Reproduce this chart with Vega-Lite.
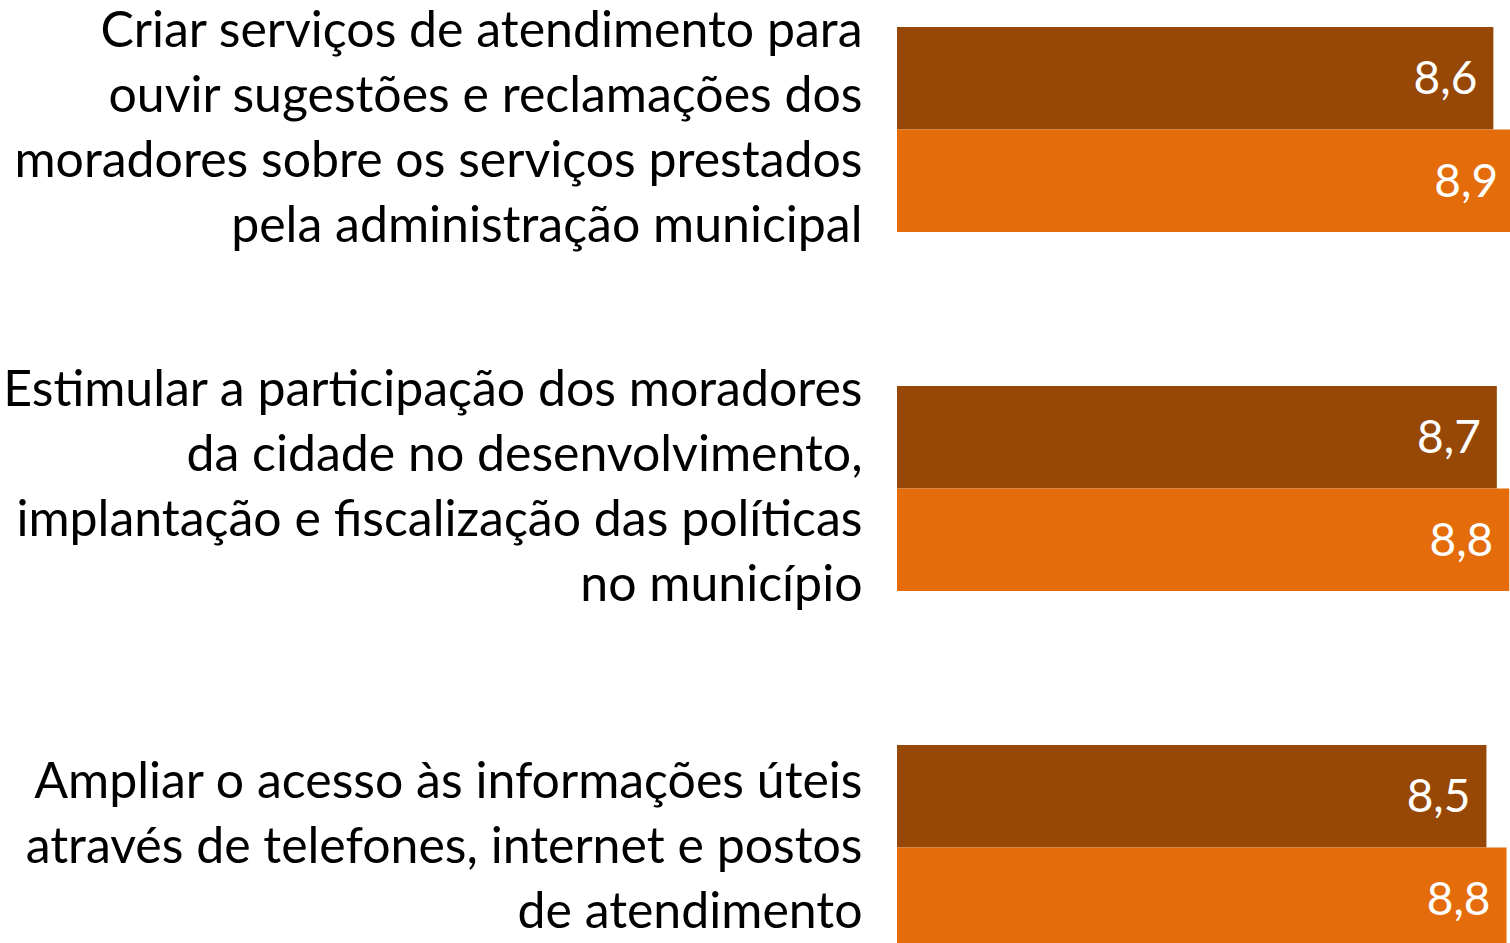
{
  "$schema": "https://vega.github.io/schema/vega-lite/v6.json",
  "width": 613,
  "height": 943,
  "autosize": {"type": "none"},
  "padding": {"left": 897, "top": 0, "right": 0, "bottom": 0},
  "background": "white",
  "config": {
    "view": {"stroke": null},
    "locale": {"number": {"decimal": ",", "thousands": ".", "grouping": [3], "currency": ["R$", ""]}}
  },
  "data": {
    "values": [
      {"acao": "Criar serviços de atendimento para|ouvir sugestões e reclamações dos|moradores sobre os serviços prestados|pela administração municipal", "serie": "Série 1", "valor": 8.61},
      {"acao": "Criar serviços de atendimento para|ouvir sugestões e reclamações dos|moradores sobre os serviços prestados|pela administração municipal", "serie": "Série 2", "valor": 8.91},
      {"acao": "Estimular a participação dos moradores|da cidade no desenvolvimento,|implantação e fiscalização das políticas|no município", "serie": "Série 1", "valor": 8.66},
      {"acao": "Estimular a participação dos moradores|da cidade no desenvolvimento,|implantação e fiscalização das políticas|no município", "serie": "Série 2", "valor": 8.84},
      {"acao": "Ampliar o acesso às informações úteis|através de telefones, internet e postos|de atendimento", "serie": "Série 1", "valor": 8.51},
      {"acao": "Ampliar o acesso às informações úteis|através de telefones, internet e postos|de atendimento", "serie": "Série 2", "valor": 8.8}
    ]
  },
  "encoding": {
    "y": {
      "field": "acao", "type": "nominal", "sort": null,
      "scale": {"range": [-50, 1027], "paddingInner": 0.429, "paddingOuter": 0.2145},
      "axis": {
        "title": null, "domain": false, "ticks": false,
        "labelExpr": "split(datum.label, '|')",
        "labelFont": "Lato", "labelFontSize": 50, "labelColor": "#000000",
        "labelLineHeight": 65, "labelPadding": 35, "labelLimit": 0,
        "labelOffset": {"condition": {"test": "indexof(datum.label, 'Ampliar') == 0", "value": -65}, "value": -97.5}
      }
    },
    "yOffset": {"field": "serie", "type": "nominal", "sort": null},
    "x": {"field": "valor", "type": "quantitative", "scale": {"domain": [0, 8.85], "nice": false, "zero": true}, "axis": null}
  },
  "layer": [
    {
      "mark": {"type": "bar", "clip": true},
      "encoding": {
        "color": {"field": "serie", "type": "nominal", "scale": {"range": ["#974806", "#E46C0A"]}, "legend": null}
      }
    },
    {
      "mark": {"type": "text", "align": "right", "baseline": "middle", "dx": -16, "dy": 2, "font": "Lato", "fontSize": 46, "color": "#FFFFFF"},
      "encoding": {"text": {"field": "valor", "type": "quantitative", "format": ".1f"}}
    }
  ]
}
